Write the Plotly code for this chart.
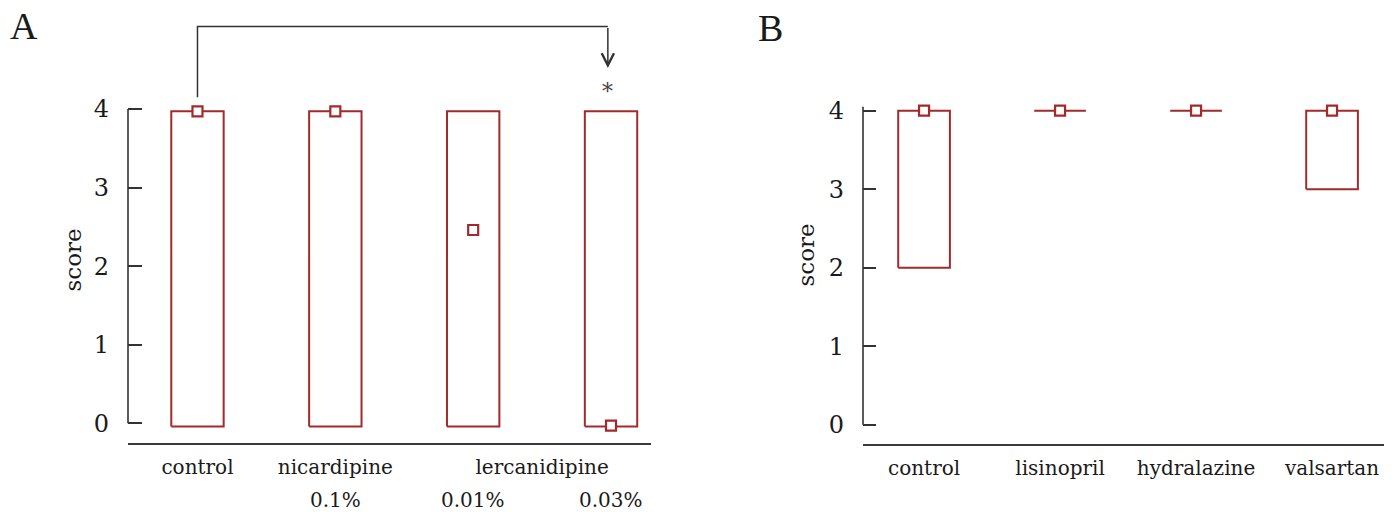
import plotly.graph_objects as go

W, H = 1397, 512
RED = "#A32A2C"
INK = "#333333"
TXT = "#1a1a1a"
SERIF = "DejaVu Serif"

# ---------------- data ----------------
a_positions = [0, 1, 2, 3]
a_names = ["control", "nicardipine", "lercanidipine"]
a_name_pos = [0, 1, 2.5]
a_doses = ["", "0.1%", "0.01%", "0.03%"]
a_q1 = [-0.04, -0.04, -0.04, -0.04]
a_q3 = [3.97, 3.97, 3.97, 3.97]
a_med = [3.97, 3.97, 2.46, -0.03]

b_positions = [0, 1, 2, 3]
b_names = ["control", "lisinopril", "hydralazine", "valsartan"]
b_q1 = [2, 4, 4, 3]
b_q3 = [4, 4, 4, 4]
b_med = [4, 4, 4, 4]

y_ticks = [0, 1, 2, 3, 4]
HALF = 0.19  # half box width in category units


def box_outline(pos, q1, q3):
    xs, ys = [], []
    for p, lo, hi in zip(pos, q1, q3):
        xs += [p - HALF, p + HALF, p + HALF, p - HALF, p - HALF, None]
        ys += [lo, lo, hi, hi, lo, None]
    return xs, ys


def px_x(px):
    return px / W


def px_y(px):
    return 1 - px / H


fig = go.Figure()

for pos, q1, q3, med, xa, ya in [
    (a_positions, a_q1, a_q3, a_med, "x", "y"),
    (b_positions, b_q1, b_q3, b_med, "x2", "y2"),
]:
    xs, ys = box_outline(pos, q1, q3)
    fig.add_trace(go.Scatter(x=xs, y=ys, mode="lines", xaxis=xa, yaxis=ya,
                             line=dict(color=RED, width=2), hoverinfo="skip"))
    fig.add_trace(go.Scatter(x=pos, y=med, mode="markers", xaxis=xa, yaxis=ya,
                             cliponaxis=False,
                             marker=dict(symbol="square", size=10, color="white",
                                         line=dict(color=RED, width=2.2))))

common_y = dict(tickvals=y_ticks, ticks="inside", tickwidth=1.5, tickcolor=INK,
                showline=False, showgrid=False, zeroline=False,
                tickfont=dict(family=SERIF, size=24, color=TXT),
                ticklabelstandoff=18)
common_x = dict(showline=True, linecolor="#3a3a3a", linewidth=2, ticks="",
                showgrid=False, zeroline=False,
                tickfont=dict(family=SERIF, size=20, color=TXT),
                ticklabelstandoff=5)

fig.update_layout(
    width=W, height=H, margin=dict(l=0, r=0, t=0, b=0),
    paper_bgcolor="white", plot_bgcolor="white", showlegend=False,
    xaxis=dict(domain=[px_x(128), px_x(651)], range=[-0.504, 3.29], anchor="y",
               tickvals=a_name_pos, ticktext=a_names, **common_x),
    yaxis=dict(domain=[px_y(443), px_y(14.6)], range=[-0.25, 5.2], anchor="x",
               ticklen=14, **common_y),
    xaxis2=dict(domain=[px_x(863), px_x(1384)], range=[-0.449, 3.382], anchor="y2",
                tickvals=b_positions, ticktext=b_names, **common_x),
    yaxis2=dict(domain=[px_y(444), px_y(16.5)], range=[-0.246, 5.2], anchor="x2",
                ticklen=13, **common_y),
)

# y axis lines spanning 0..4
fig.add_shape(type="line", xref="x domain", yref="y", x0=0, x1=0, y0=0, y1=4,
              line=dict(color=INK, width=1.6))
fig.add_shape(type="line", xref="x2 domain", yref="y2", x0=0, x1=0, y0=0, y1=4.05,
              line=dict(color=INK, width=1.6))

# significance bracket (panel A)
BR_X = 2.977
fig.add_shape(type="path", xref="x", yref="y",
              path=f"M 0,4.15 V 5.05 H {BR_X}",
              line=dict(color=INK, width=1.5))
fig.add_annotation(x=BR_X, y=4.52, ax=BR_X, ay=5.05, xref="x", yref="y",
                   axref="x", ayref="y", text="", showarrow=True, arrowhead=5,
                   arrowsize=1.6, arrowwidth=1.5, arrowcolor=INK, standoff=0)
fig.add_annotation(x=BR_X, y=4.22, xref="x", yref="y", text="*", showarrow=False,
                   xanchor="center", yanchor="middle",
                   font=dict(family=SERIF, size=22, color="#444444"))

# dose labels
for p, d in zip(a_positions, a_doses):
    if d:
        fig.add_annotation(x=p, y=px_y(500), xref="x", yref="paper", text=d,
                           showarrow=False, xanchor="center", yanchor="middle",
                           font=dict(family=SERIF, size=20, color=TXT))

# axis titles
for xp, yp in [(72, 260.5), (805, 255.5)]:
    fig.add_annotation(x=px_x(xp), y=px_y(yp), xref="paper", yref="paper", text="score",
                       textangle=-90, showarrow=False, xanchor="center", yanchor="middle",
                       font=dict(family=SERIF, size=23, color=TXT))

# panel letters
for xp, yp, t in [(23.7, 26, "A"), (770, 28, "B")]:
    fig.add_annotation(x=px_x(xp), y=px_y(yp), xref="paper", yref="paper", text=t,
                       showarrow=False, xanchor="center", yanchor="middle",
                       font=dict(family="Liberation Serif", size=38, color=TXT))

fig.write_html("out.html", config={"displayModeBar": False},
               post_script="document.body.style.margin='0';document.body.style.padding='0';")
